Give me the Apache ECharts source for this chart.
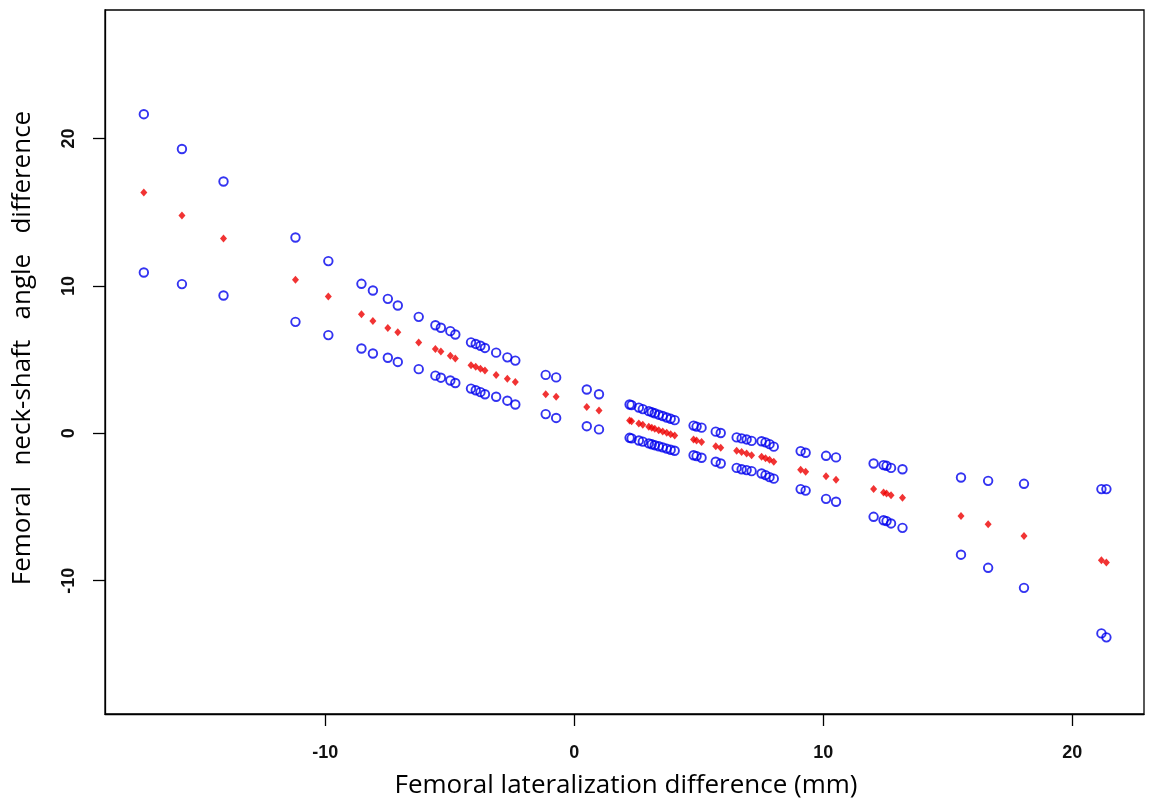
<!DOCTYPE html>
<html>
<head>
<meta charset="utf-8">
<script src="https://cdn.jsdelivr.net/npm/echarts@6/dist/echarts.min.js"></script>
<style>
html,body{margin:0;padding:0;background:#fff;}
#chart{width:1149px;height:802px;}
</style>
</head>
<body>
<div id="chart"></div>
<script>
// Femoral lateralization difference (mm)
const xValues = [-17.29,-15.76,-14.09,-11.20,-9.88,-8.55,-8.09,-7.49,-7.09,-6.25,
  -5.58,-5.36,-4.98,-4.78,-4.15,-3.96,-3.77,-3.59,-3.14,-2.69,
  -2.37,-1.15,-0.73,0.50,0.99,
  2.22,2.30,2.59,2.75,2.99,3.11,3.23,3.39,3.55,3.71,3.87,4.03,
  4.79,4.91,5.11,5.68,5.88,6.52,6.72,6.92,7.12,7.52,7.68,7.84,8.01,
  9.09,9.29,10.11,10.51,12.02,12.42,12.54,12.72,13.18,15.53,16.62,18.06,21.17,21.37];
// predicted neck-shaft angle difference (red)
const fitValues = [16.34,14.78,13.22,10.41,9.28,8.08,7.61,7.15,6.86,6.16,
  5.71,5.54,5.26,5.07,4.61,4.52,4.38,4.26,3.96,3.70,
  3.47,2.65,2.47,1.79,1.55,
  0.87,0.82,0.66,0.58,0.44,0.37,0.31,0.21,0.12,0.03,-0.06,-0.15,
  -0.43,-0.50,-0.60,-0.88,-0.98,-1.18,-1.28,-1.38,-1.49,-1.59,-1.69,-1.79,-1.93,
  -2.47,-2.61,-2.91,-3.16,-3.79,-4.02,-4.08,-4.20,-4.38,-5.62,-6.17,-6.98,-8.61,-8.77];
// upper bound (blue)
const upperValues = [21.65,19.29,17.08,13.28,11.68,10.14,9.69,9.12,8.67,7.90,
  7.33,7.16,6.93,6.70,6.17,6.06,5.94,5.79,5.47,5.15,
  4.93,3.96,3.79,2.97,2.65,
  1.95,1.91,1.74,1.64,1.50,1.43,1.36,1.26,1.17,1.07,0.98,0.89,
  0.52,0.45,0.38,0.11,0.02,-0.28,-0.35,-0.42,-0.52,-0.54,-0.62,-0.74,-0.91,
  -1.21,-1.32,-1.53,-1.64,-2.05,-2.16,-2.21,-2.35,-2.44,-3.00,-3.23,-3.43,-3.79,-3.79];
// lower bound (blue)
const lowerValues = [10.91,10.12,9.35,7.56,6.66,5.75,5.41,5.12,4.84,4.35,
  3.91,3.77,3.58,3.41,3.03,2.92,2.79,2.65,2.48,2.21,
  1.95,1.30,1.04,0.48,0.26,
  -0.31,-0.35,-0.49,-0.57,-0.69,-0.75,-0.81,-0.88,-0.96,-1.04,-1.12,-1.19,
  -1.49,-1.55,-1.66,-1.93,-2.05,-2.35,-2.44,-2.50,-2.57,-2.73,-2.84,-2.98,-3.08,
  -3.79,-3.89,-4.45,-4.65,-5.67,-5.90,-5.96,-6.12,-6.42,-8.24,-9.13,-10.49,-13.58,-13.85];
const xTicks = [-10, 0, 10, 20];
const yTicks = [-10, 0, 10, 20];
const xTitle = 'Femoral lateralization difference (mm)';
const yTitle = 'Femoral   neck-shaft   angle   difference';

const pair = vals => xValues.map((x, i) => [x, vals[i]]);

const chart = echarts.init(document.getElementById('chart'), null, {renderer: 'canvas'});
const labelFont = {fontFamily: 'Liberation Sans Narrow, Liberation Sans, Arial', fontWeight: 'bold', fontSize: 18, color: '#111'};
const tickCommon = {show: true, inside: false, length: 12, lineStyle: {color: '#000', width: 1.3}};
const blueCircle = {
  type: 'scatter', symbol: 'circle', symbolSize: 8.5,
  itemStyle: {color: 'rgba(0,0,0,0)', borderColor: '#0000ee', borderWidth: 1.9},
  emphasis: {disabled: true}, silent: true
};
chart.setOption({
  animation: false,
  backgroundColor: '#fff',
  grid: {left: 105, right: 5, top: 10, bottom: 88, show: true, borderColor: '#000', borderWidth: 1.3, backgroundColor: 'transparent'},
  xAxis: {
    type: 'value', min: -18.85, max: 22.88,
    axisLine: {show: true, onZero: false, lineStyle: {color: '#000', width: 1.3}},
    axisTick: Object.assign({customValues: xTicks}, tickCommon),
    axisLabel: Object.assign({customValues: xTicks, margin: 30}, labelFont),
    splitLine: {show: false}
  },
  yAxis: {
    type: 'value', min: -19.05, max: 28.72,
    axisLine: {show: true, onZero: false, lineStyle: {color: '#000', width: 1.3}},
    axisTick: Object.assign({customValues: yTicks}, tickCommon),
    axisLabel: Object.assign({customValues: yTicks, rotate: 90, margin: 27}, labelFont),
    splitLine: {show: false}
  },
  graphic: [
    {type: 'text', x: 626, y: 786, style: {text: xTitle, font: '26px "Open Sans", "Noto Sans", sans-serif', fill: '#000', align: 'center', verticalAlign: 'middle'}},
    {type: 'text', x: 10, y: 348, rotation: Math.PI / 2,
      style: {text: yTitle, font: '26px "Open Sans", "Noto Sans", sans-serif', fill: '#000', align: 'center', verticalAlign: 'top'}}
  ],
  series: [
    Object.assign({name: 'upper', data: pair(upperValues)}, blueCircle),
    Object.assign({name: 'lower', data: pair(lowerValues)}, blueCircle),
    {type: 'scatter', name: 'fit', symbol: 'diamond', symbolSize: [7, 8], data: pair(fitValues),
      itemStyle: {color: '#ee0000'}, silent: true, emphasis: {disabled: true}}
  ]
});
</script>
</body>
</html>
